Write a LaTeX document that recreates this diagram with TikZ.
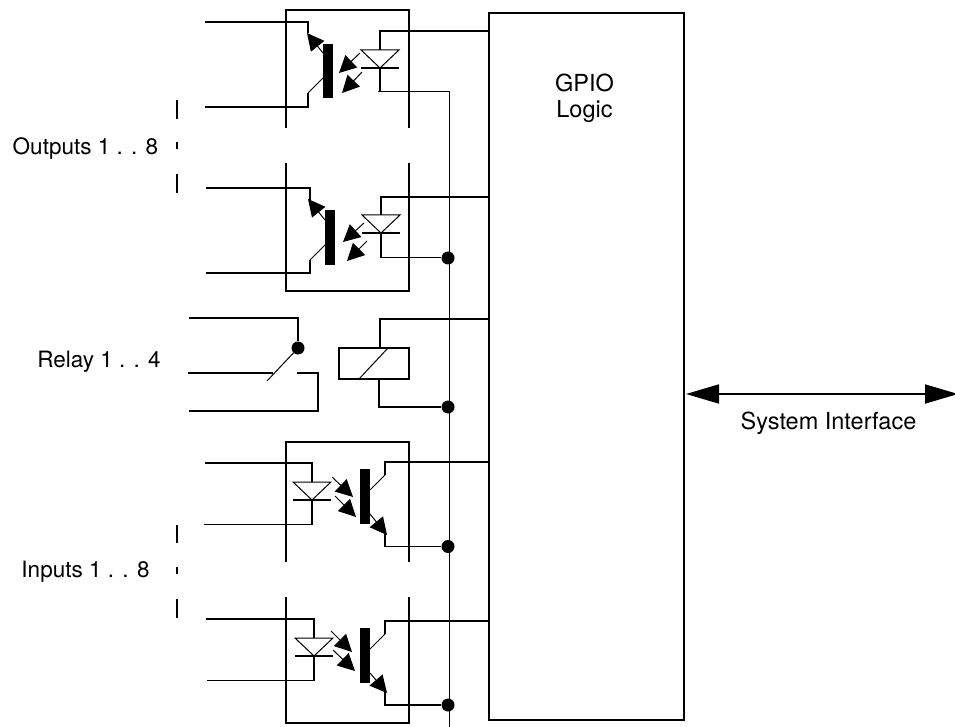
\documentclass[tikz,border=0pt]{standalone}
\usepackage{fontspec}
\setmainfont{TeX Gyre Heros}
\usetikzlibrary{arrows.meta}
\tikzset{
  wire/.style={line width=1.8pt,line join=miter,line cap=butt},
  thinwire/.style={line width=1pt},
  hair/.style={line width=1pt},
  headtip/.style={-{Triangle[length=17pt,width=17pt]}},
  ray/.style={line width=1pt,headtip},
  junction/.style={circle,fill=black,inner sep=0pt,minimum size=13pt},
  label/.style={font=\fontsize{22.5}{27}\selectfont,inner sep=0pt,text=black,anchor=base},
  biglabel/.style={font=\fontsize{23.5}{28}\selectfont,inner sep=0pt,text=black,anchor=base},
  blockbox/.style={draw,line width=1.8pt,inner sep=0pt,minimum width=195pt,minimum height=707pt},
  bigarrow/.style={line width=1.8pt,{Triangle[length=33pt,width=19pt]}-{Triangle[length=33pt,width=19pt]}},
  coilbox/.style={draw,line width=1.8pt,inner sep=0pt,minimum width=70pt,minimum height=31pt}
}
% diode: name, centre x, triangle top y
\newcommand{\ledsym}[3]{%
  \coordinate (#1t) at (#2,#3);
  \coordinate (#1k) at (#2,#3+18);
  \draw[hair] (#2-19,#3) -- (#2+19,#3) -- (#2,#3+18) -- cycle;
  \draw[wire] (#2-19,#3+18) -- (#2+19,#3+18);
}
\begin{document}
\begin{tikzpicture}[x=1pt,y=-1pt]
\useasboundingbox (0,0) rectangle (955,727);

% main block
\node[blockbox] (gpio) at (586.5,366.5) {};
\node[biglabel] (gpiot) at (584.5,92) {GPIO};
\node[biglabel] (logict) at (584.5,117.5) {Logic};

% common rail
\coordinate (railtop) at (449,92);
\coordinate (railbot) at (449,727);
\draw[thinwire] (378,92) -- (railtop) -- (railbot);

% junctions
\node[junction] (j2) at (448,258) {};
\node[junction] (j3) at (448,407) {};
\node[junction] (j4) at (448,546.5) {};
\node[junction] (j5) at (448,705) {};

% ---------- Output 1
\draw[wire] (286,128) -- (286,10) -- (409,10) -- (409,128);
\fill (323,44) rectangle (333,98);
\coordinate (o1c) at (308,33);
\coordinate (o1e) at (308,93);
\draw[wire] (205,22) -| (o1c);
\draw[wire] (205,107) -| (o1e);
\draw[ray] (323,53) -- (307,33);
\draw[thinwire] (323,78) -- (o1e);
\ledsym{a}{380}{50}
\draw[wire] (gpio.west |- 0,31) -| (at);
\draw[wire] (ak) -- (380,92);
\draw[ray] (360,53) -- (339,73);
\draw[ray] (362,72) -- (342,93);

% ---------- Output 2
\draw[wire] (286,163) -- (286,291) -- (409,291) -- (409,163);
\fill (325,210) rectangle (335,265);
\coordinate (o2c) at (310,200);
\coordinate (o2e) at (310,260);
\draw[wire] (206,188) -| (o2c);
\draw[wire] (206,273) -| (o2e);
\draw[ray] (325,220) -- (308,199);
\draw[thinwire] (325,245) -- (o2e);
\ledsym{b}{381}{215}
\draw[wire] (gpio.west |- 0,197) -| (bt);
\draw[wire] (bk) -- (381,258);
\draw[thinwire] (380,258) -- (j2);
\draw[ray] (364,223) -- (343,242);
\draw[ray] (367,241) -- (347,261);

% ---------- Relay
\node[junction] (rp) at (298,348) {};
\coordinate (rb) at (267,381);
\draw[wire] (189,318) -| (rp);
\draw[thinwire] (rp) -- (rb);
\draw[wire] (188,373) -- (273,373);
\draw[wire] (297,373) -| (318,411) -- (189,411);
\node[coilbox] (coil) at (374,363.5) {};
\draw[thinwire] (359,379) -- (388,348);
\draw[wire] (gpio.west |- 0,319) -| (380,348);
\draw[wire] (379,379) |- (j3);

% ---------- Input 1
\draw[wire] (286,562) -- (286,442) -- (409,442) -- (409,562);
\ledsym{c}{312}{482}
\draw[wire] (205,463) -| (ct);
\draw[wire] (ck) -- (312,524);
\draw[thinwire] (204,524) -- (313,524);
\draw[ray] (332,477) -- (353,497);
\draw[ray] (335,496) -- (356,517);
\fill (360,469) rectangle (370,524);
\coordinate (i1c) at (385,475);
\coordinate (i1e) at (387,535);
\draw[thinwire] (370,490) -- (i1c);
\draw[wire] (i1c) |- (gpio.west |- 0,462);
\draw[ray] (370,514) -- (i1e);
\draw[wire] (385,533) |- (j4);

% ---------- Input 2
\draw[wire] (286,597) -- (286,723) -- (409,723) -- (409,597);
\ledsym{d}{314}{638}
\draw[wire] (206,619) -| (dt);
\draw[wire] (dk) -- (314,680);
\draw[thinwire] (207,680) -- (315,680);
\draw[ray] (331,631) -- (352,652);
\draw[ray] (333,650) -- (355,671);
\fill (360,628) rectangle (370,683);
\coordinate (i2c) at (385,634);
\coordinate (i2e) at (387,693);
\draw[thinwire] (370,649) -- (i2c);
\draw[wire] (i2c) |- (gpio.west |- 0,621);
\draw[ray] (370,673) -- (i2e);
\draw[wire] (385,691) |- (j5);

% ---------- Dashes
\draw[wire] (177,100) -- (177,119);
\draw[wire] (177,142) -- (177,149);
\draw[wire] (177,174) -- (177,193);
\draw[wire] (177,525) -- (177,543);
\draw[wire] (177,567) -- (177,574);
\draw[wire] (177,599) -- (177,618);

% ---------- Labels
\node[label] (outl) at (85.5,154.5) {Outputs 1 . . 8};
\node[label] (rell) at (99,367) {Relay 1 . . 4};
\node[label] (inl) at (85.5,577) {Inputs 1 . . 8};
\node[biglabel] (sysl) at (828.5,429) {System Interface};

% ---------- System interface
\coordinate (sysa) at (686,394);
\coordinate (sysb) at (958,394);
\draw[bigarrow] (sysa) -- (sysb);
\end{tikzpicture}
\end{document}
